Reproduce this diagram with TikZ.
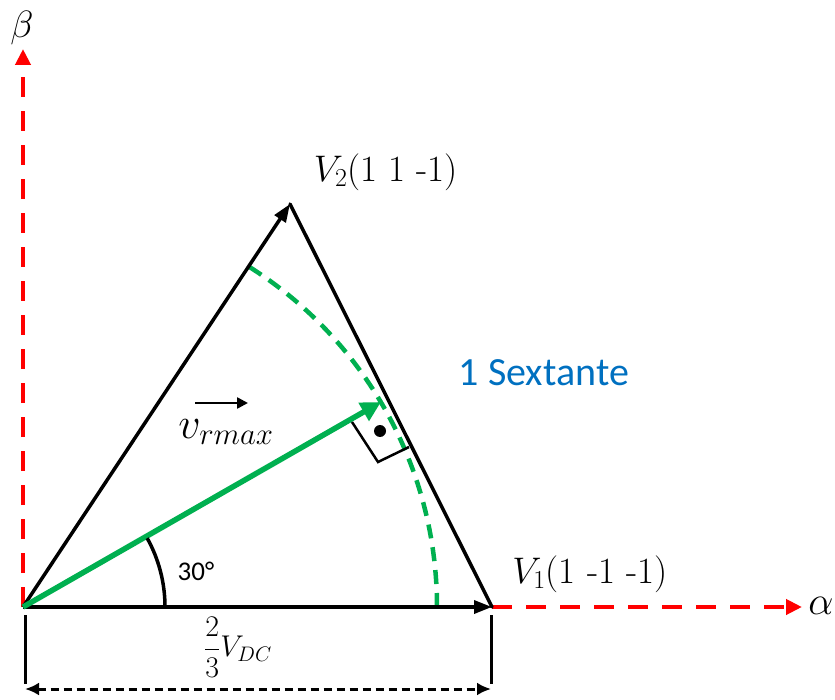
\RequirePackage{fix-cm}
\documentclass[tikz,border=0pt]{standalone}
\usepackage{fontspec}
\usetikzlibrary{arrows.meta}
\newfontfamily\carlito{Carlito}
\definecolor{axisred}{RGB}{255,0,0}
\definecolor{vgreen}{RGB}{0,176,80}
\definecolor{sextblue}{RGB}{0,112,192}
\tikzset{
  axisline/.style={draw=axisred, line width=4pt, dash pattern=on 20pt off 14pt, -{Triangle[length=16pt,width=15pt]}},
  edge/.style={draw=black, line width=3.5pt, line cap=round},
  edgearrow/.style={edge, line cap=butt, -{Triangle[length=18pt,width=13pt]}},
  vecline/.style={draw=vgreen, line width=5.5pt, -{Triangle[length=20pt,width=20pt]}},
  arcdash/.style={draw=vgreen, line width=4.5pt, dash pattern=on 14pt off 9pt},
  dimline/.style={draw=black, line width=3pt},
  dimarrow/.style={draw=black, line width=3pt, dash pattern=on 8pt off 5pt, {Latex[length=14pt,width=13pt]}-{Latex[length=14pt,width=13pt]}},
  lbl/.style={inner sep=0pt, outer sep=0pt, anchor=center},
}
\begin{document}
\begin{tikzpicture}[x=1pt,y=-1pt]
\useasboundingbox (0,0) rectangle (835,700);
% key points
\coordinate (O) at (23,607);
\coordinate (V1) at (492,607);
\coordinate (V2) at (290,204);
\coordinate (Btop) at (23,49);
\coordinate (Aend) at (802,607);
\coordinate (F) at (381,402);
% axes
\draw[axisline] (O) -- (Btop);
\draw[axisline] (V1) -- (Aend);
% green dashed arc
\draw[arcdash] (437,607) arc[start angle=0, end angle=-57.8, radius=402];
% triangle
\draw[edge] (V2) -- (V1);
\draw[edgearrow] (O) -- (V2);
\draw[edgearrow] (O) -- (V1);
% green vector
\draw[vecline] (O) -- (F);
% right angle mark
\coordinate (RA) at (352,422);
\coordinate (RB) at (378,462);
\coordinate (RC) at (409,447);
\draw[black, line width=2.5pt] (RA) -- (RB) -- (RC);
\fill[black] (380,431) circle[radius=6pt];
% 30 deg arc
\draw[black, line width=3.5pt] (165,607) arc[start angle=0, end angle=-29, radius=142];
% dimension
\coordinate (DL1) at (25,615);
\coordinate (DL2) at (25,684);
\coordinate (DR1) at (491,615);
\coordinate (DR2) at (491,684);
\coordinate (DA) at (25,689);
\coordinate (DB) at (491,689);
\draw[dimline] (DL1) -- (DL2);
\draw[dimline] (DR1) -- (DR2);
\draw[dimarrow] (DA) -- (DB);
% vector label arrow
\coordinate (VA1) at (195,403);
\coordinate (VA2) at (248,403);
\draw[black, line width=2.5pt, -{Triangle[length=11pt,width=11pt]}] (VA1) -- (VA2);
% labels
\node[lbl] (beta) at (22,28) {\fontsize{38}{42}\selectfont$\beta$};
\node[lbl] (alpha) at (821,606) {\fontsize{40}{44}\selectfont$\alpha$};
\node[lbl] (lV2) at (386,172) {\fontsize{37}{42}\selectfont$V_2$(1 1 -1)};
\node[lbl] (lV1) at (590,574) {\fontsize{37}{42}\selectfont$V_1$(1 -1 -1)};
\node[lbl] (lvr) at (226,432) {\fontsize{44}{50}\selectfont$v_{rmax}$};
\node[lbl] (lsext) at (544,373) {\carlito\fontsize{40}{46}\selectfont\color{sextblue}1 Sextante};
\node[lbl] (l30) at (196,571) {\carlito\fontsize{27}{32}\selectfont 30°};
\node[lbl] (ldc) at (238,647) {\fontsize{30}{36}\selectfont$\displaystyle\frac{2}{3}V_{DC}$};
\end{tikzpicture}
\end{document}
